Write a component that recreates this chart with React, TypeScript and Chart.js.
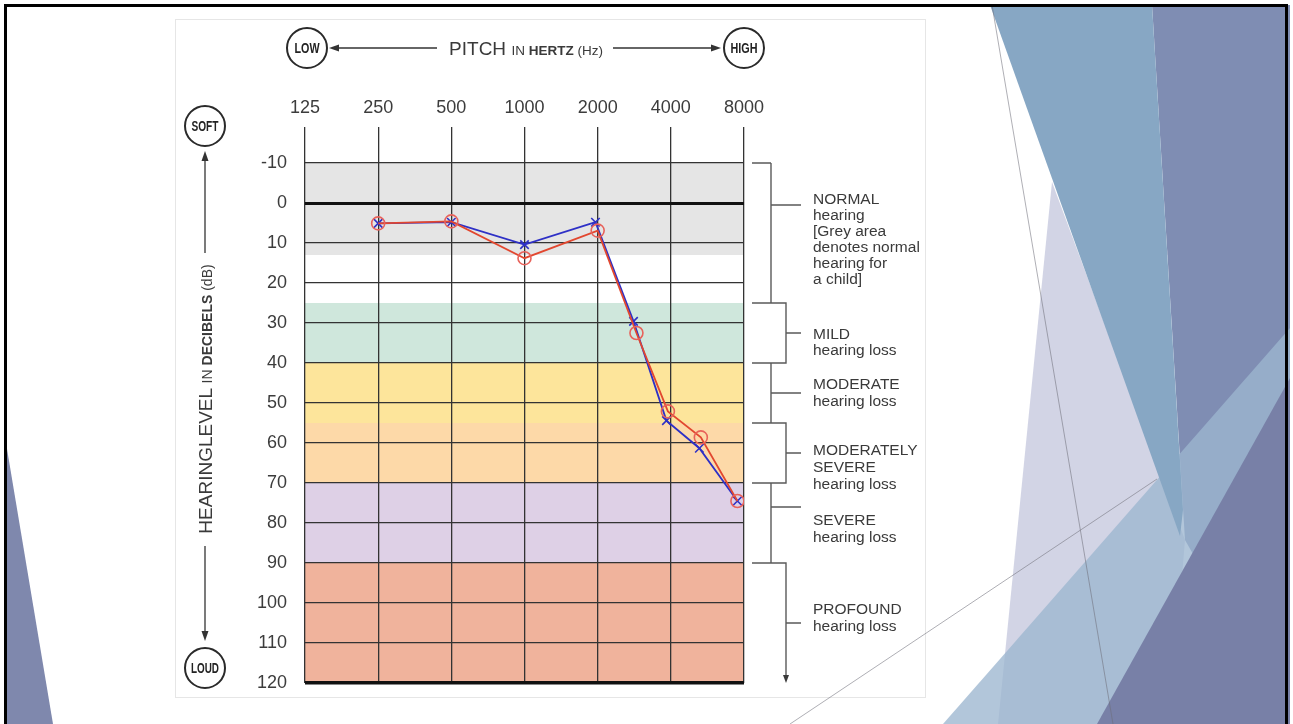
import React, { useEffect, useRef } from 'react';
import { Chart, registerables } from 'chart.js';

Chart.register(...registerables);

// ---------- data ----------
const FREQ_LABELS = ['125', '250', '500', '1000', '2000', '4000', '8000'];
const DB_MIN = -10;
const DB_MAX = 120;
const DB_STEP = 10;

const RIGHT_EAR_POS = [1, 2, 3, 4, 4.53, 4.96, 5.41, 5.91];
const RIGHT_EAR_DB = [5.1, 4.6, 13.8, 6.9, 32.5, 52.1, 58.6, 74.5];
const LEFT_EAR_POS = [1, 2, 3, 3.97, 4.49, 4.94, 5.39, 5.91];
const LEFT_EAR_DB = [5.1, 4.8, 10.4, 4.8, 29.6, 54.4, 61.3, 74.5];

// background bands (dB)
const BAND_FROM = [-10, 13, 25, 40, 55, 70, 90];
const BAND_TO = [13, 25, 40, 55, 70, 90, 120];
const BAND_COLORS = ['#e5e5e5', '#ffffff', '#cfe7dc', '#fde59b', '#fdd9a8', '#ded0e6', '#f0b39c'];

// hearing-loss categories (dB)
const CAT_FROM = [-10, 25, 40, 55, 70, 90];
const CAT_TO = [25, 40, 55, 70, 90, 120];
const CAT_TICK = [0.5, 32.5, 47.5, 62.5, 76, 105];

// ---------- chart plugins ----------
const bandsPlugin = {
  id: 'bands',
  beforeDraw(chart: any) {
    const { ctx, chartArea, scales } = chart;
    const y = scales.y;
    ctx.save();
    for (let i = 0; i < BAND_FROM.length; i++) {
      const y0 = y.getPixelForValue(BAND_FROM[i]);
      const y1 = y.getPixelForValue(BAND_TO[i]);
      ctx.fillStyle = BAND_COLORS[i];
      ctx.fillRect(chartArea.left, y0, chartArea.right - chartArea.left, y1 - y0);
    }
    ctx.restore();
  },
};

const bracketPlugin = {
  id: 'brackets',
  afterDraw(chart: any) {
    const { ctx, scales } = chart;
    const y = scales.y;
    const xs = 752, xi = 771, xo = 786, xt = 801;
    ctx.save();
    ctx.strokeStyle = '#5a5a5a';
    ctx.fillStyle = '#3a3a3a';
    ctx.lineWidth = 1.4;
    for (let i = 0; i < CAT_FROM.length; i++) {
      const a = y.getPixelForValue(CAT_FROM[i]);
      const b = y.getPixelForValue(CAT_TO[i]);
      const t = y.getPixelForValue(CAT_TICK[i]);
      ctx.beginPath();
      if (i % 2 === 0) {
        if (i === 0) {
          ctx.moveTo(xs, a);
          ctx.lineTo(xi, a);
        }
        ctx.moveTo(xi, a);
        ctx.lineTo(xi, b);
        ctx.moveTo(xi, t);
        ctx.lineTo(xt, t);
      } else {
        ctx.moveTo(xs, a);
        ctx.lineTo(xo, a);
        if (i === CAT_FROM.length - 1) {
          ctx.lineTo(xo, b - 6);
        } else {
          ctx.lineTo(xo, b);
          ctx.lineTo(xs, b);
        }
        ctx.moveTo(xo, t);
        ctx.lineTo(xt, t);
      }
      ctx.stroke();
      if (i === CAT_FROM.length - 1) {
        ctx.beginPath();
        ctx.moveTo(xo, b);
        ctx.lineTo(xo - 3, b - 8);
        ctx.lineTo(xo + 3, b - 8);
        ctx.closePath();
        ctx.fill();
      }
    }
    ctx.restore();
  },
};

// ---------- slide decoration ----------
const BG_SHAPES: { pts: string; fill: string }[] = [
  { pts: '1052,182 998,724 1170,724 1185,540', fill: 'rgba(192,196,219,0.72)' },
  { pts: '1152,5 1290,5 1290,724 1185,540', fill: 'rgba(116,131,172,0.92)' },
  { pts: '943,724 1290,328 1290,724', fill: 'rgba(156,182,208,0.78)' },
  { pts: '990,5 1152,5 1183,510 1180,536', fill: '#87a7c4' },
  { pts: '1097,724 1290,378 1290,724', fill: '#7880a7' },
  { pts: '5,437 53,724 5,724', fill: '#7f88ad' },
];

const FONT = "'Liberation Sans', Arial, sans-serif";
const TXT = '#3a3a3a';

type Line = { t: string; y: number };
const RIGHT_TEXT: Line[] = [
  { t: 'NORMAL', y: 204 },
  { t: 'hearing', y: 220 },
  { t: '[Grey area', y: 236 },
  { t: 'denotes normal', y: 252 },
  { t: 'hearing for', y: 268 },
  { t: 'a child]', y: 284 },
  { t: 'MILD', y: 339 },
  { t: 'hearing loss', y: 355 },
  { t: 'MODERATE', y: 389 },
  { t: 'hearing loss', y: 406 },
  { t: 'MODERATELY', y: 455 },
  { t: 'SEVERE', y: 472 },
  { t: 'hearing loss', y: 489 },
  { t: 'SEVERE', y: 525 },
  { t: 'hearing loss', y: 542 },
  { t: 'PROFOUND', y: 614 },
  { t: 'hearing loss', y: 631 },
];

function Badge({ cx, cy, label, w }: { cx: number; cy: number; label: string; w: number }) {
  return (
    <g>
      <circle cx={cx} cy={cy} r={20} fill="#fff" stroke="#2a2a2a" strokeWidth={2} />
      <text
        x={cx - w / 2}
        y={cy + 5}
        textLength={w}
        lengthAdjust="spacingAndGlyphs"
        fontFamily={FONT}
        fontWeight="bold"
        fontSize={14}
        fill="#222"
      >
        {label}
      </text>
    </g>
  );
}

export default function App() {
  const canvasRef = useRef<HTMLCanvasElement>(null);

  useEffect(() => {
    const canvas = canvasRef.current;
    if (!canvas) return;
    const right = RIGHT_EAR_POS.map((x, i) => ({ x, y: RIGHT_EAR_DB[i] }));
    const left = LEFT_EAR_POS.map((x, i) => ({ x, y: LEFT_EAR_DB[i] }));
    const chart = new Chart(canvas, {
      type: 'scatter',
      data: {
        datasets: [
          {
            label: 'Right ear',
            data: right,
            showLine: true,
            borderColor: '#e2472f',
            borderWidth: 1.8,
            tension: 0,
            pointStyle: 'circle',
            pointRadius: 6.5,
            pointBorderColor: '#e8625a',
            pointBackgroundColor: 'rgba(0,0,0,0)',
            pointBorderWidth: 1.6,
          },
          {
            label: 'Left ear',
            data: left,
            showLine: true,
            borderColor: '#2e30c6',
            borderWidth: 1.8,
            tension: 0,
            pointStyle: 'crossRot',
            pointRadius: 6,
            pointBorderColor: '#2e30c6',
            pointBackgroundColor: 'rgba(0,0,0,0)',
            pointBorderWidth: 1.6,
          },
        ],
      },
      options: {
        responsive: false,
        animation: false,
        events: [],
        layout: { padding: { left: 225, top: 83, right: 549, bottom: 41 } },
        plugins: { legend: { display: false }, tooltip: { enabled: false } },
        scales: {
          x: {
            type: 'linear',
            position: 'top',
            min: 0,
            max: FREQ_LABELS.length - 1,
            afterFit: (s: any) => {
              s.height = 80;
            },
            border: { display: false },
            grid: {
              color: '#333',
              lineWidth: 1.3,
              drawTicks: true,
              tickLength: 36,
            },
            ticks: {
              stepSize: 1,
              autoSkip: false,
              maxRotation: 0,
              padding: 8,
              color: '#3c3c3c',
              font: { family: FONT, size: 18 },
              callback: (v: any) => FREQ_LABELS[Math.round(Number(v))] ?? '',
            },
          },
          y: {
            type: 'linear',
            reverse: true,
            min: DB_MIN,
            max: DB_MAX,
            afterFit: (s: any) => {
              s.width = 80;
            },
            border: { display: false },
            grid: {
              drawTicks: false,
              color: (c: any) => (c.tick && (c.tick.value === 0 || c.tick.value === DB_MAX) ? '#111' : '#333'),
              lineWidth: (c: any) =>
                c.tick && c.tick.value === 0 ? 3 : c.tick && c.tick.value === DB_MAX ? 3.5 : 1.3,
            },
            ticks: {
              stepSize: DB_STEP,
              padding: 18,
              color: '#3c3c3c',
              font: { family: FONT, size: 18 },
            },
          },
        },
      },
      plugins: [bandsPlugin, bracketPlugin],
    } as any);
    return () => chart.destroy();
  }, []);

  return (
    <div
      style={{
        position: 'absolute',
        left: 0,
        top: 0,
        width: 1293,
        height: 724,
        overflow: 'hidden',
        background: '#fff',
      }}
    >
      <svg width={1293} height={724} style={{ position: 'absolute', left: 0, top: 0 }}>
        {BG_SHAPES.map((s, i) => (
          <polygon key={i} points={s.pts} fill={s.fill} />
        ))}
        <line x1={992} y1={5} x2={1113} y2={724} stroke="rgba(110,110,120,0.55)" strokeWidth={1} />
      </svg>
      <div
        style={{
          position: 'absolute',
          left: 175,
          top: 19,
          width: 749,
          height: 677,
          background: '#fff',
          border: '1px solid #e6e6e6',
        }}
      />
      <canvas
        ref={canvasRef}
        width={1293}
        height={724}
        style={{ position: 'absolute', left: 0, top: 0 }}
      />
      <svg width={1293} height={724} style={{ position: 'absolute', left: 0, top: 0 }}>
        <line x1={790} y1={724} x2={1157} y2={479} stroke="rgba(120,120,130,0.6)" strokeWidth={1} />
        {/* pitch arrow */}
        <line x1={336} y1={48} x2={437} y2={48} stroke="#333" strokeWidth={1.3} />
        <polygon points="329,48 339,44.5 339,51.5" fill="#333" />
        <line x1={613} y1={48} x2={713} y2={48} stroke="#333" strokeWidth={1.3} />
        <polygon points="721,48 711,44.5 711,51.5" fill="#333" />
        <text x={526} y={54.5} textAnchor="middle" fontFamily={FONT} fill="#3a3a3a">
          <tspan fontSize={19}>PITCH </tspan>
          <tspan fontSize={13.5}>IN </tspan>
          <tspan fontSize={13.5} fontWeight="bold">HERTZ </tspan>
          <tspan fontSize={13.5}>(Hz)</tspan>
        </text>
        <Badge cx={307} cy={48} label="LOW" w={25} />
        <Badge cx={744} cy={48} label="HIGH" w={27} />
        {/* level arrow */}
        <line x1={205} y1={158} x2={205} y2={253} stroke="#333" strokeWidth={1.3} />
        <polygon points="205,151 201.5,161 208.5,161" fill="#333" />
        <line x1={205} y1={546} x2={205} y2={634} stroke="#333" strokeWidth={1.3} />
        <polygon points="205,641 201.5,631 208.5,631" fill="#333" />
        <text
          transform="translate(212,399) rotate(-90)"
          textAnchor="middle"
          fontFamily={FONT}
          fill="#3a3a3a"
        >
          <tspan fontSize={19}>HEARINGLEVEL </tspan>
          <tspan fontSize={14}>IN </tspan>
          <tspan fontSize={14} fontWeight="bold">DECIBELS </tspan>
          <tspan fontSize={14}>(dB)</tspan>
        </text>
        <Badge cx={205} cy={126} label="SOFT" w={27} />
        <Badge cx={205} cy={668} label="LOUD" w={28} />
        {/* category labels */}
        {RIGHT_TEXT.map((l, i) => (
          <text key={i} x={813} y={l.y} fontFamily={FONT} fontSize={15.5} fill={TXT}>
            {l.t}
          </text>
        ))}
      </svg>
      <div
        style={{
          position: 'absolute',
          left: 4,
          top: 4,
          width: 1278,
          height: 740,
          borderLeft: '3px solid #000',
          borderTop: '3px solid #000',
          borderRight: '3px solid #000',
        }}
      />
    </div>
  );
}
